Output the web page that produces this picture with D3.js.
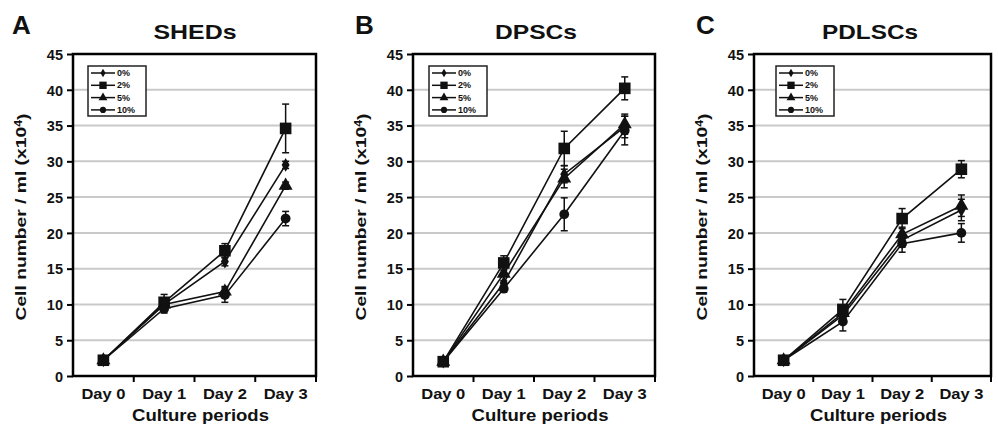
<!DOCTYPE html>
<html><head><meta charset="utf-8">
<script src="https://cdn.jsdelivr.net/npm/d3@7/dist/d3.min.js"></script>
<style>body{margin:0;background:#fff}svg{display:block}text{font-family:"Liberation Sans",Arial,sans-serif;font-weight:bold;fill:#111}</style>
</head><body>
<svg id="c" width="998" height="427"></svg>
<script>
const days = ["Day 0","Day 1","Day 2","Day 3"];
const seriesNames = ["0%","2%","5%","10%"];
const yTicks = [0,5,10,15,20,25,30,35,40,45];
const panelLetters = ["A","B","C"];
const panelTitles = ["SHEDs","DPSCs","PDLSCs"];

// SHEDs
const shed0 = [2.2, 10.0, 16.0, 29.5];
const shed2 = [2.2, 10.3, 17.5, 34.6];
const shed5 = [2.2, 10.0, 11.8, 26.6];
const shed10 = [2.2, 9.4, 11.3, 22.0];
const shedErr0 = [0.2, 0.8, 0.6, 0.5];
const shedErr2 = [0.2, 1.1, 1.0, 3.4];
const shedErr5 = [0.2, 0.8, 0.7, 0.5];
const shedErr10 = [0.2, 0.6, 1.0, 1.0];
// DPSCs
const dpsc0 = [2.0, 13.0, 28.2, 34.8];
const dpsc2 = [2.0, 15.8, 31.8, 40.2];
const dpsc5 = [2.0, 14.3, 27.6, 35.2];
const dpsc10 = [2.0, 12.2, 22.6, 34.3];
const dpscErr0 = [0.2, 1.0, 1.2, 1.5];
const dpscErr2 = [0.2, 1.0, 2.4, 1.6];
const dpscErr5 = [0.2, 1.0, 1.3, 1.4];
const dpscErr10 = [0.2, 0.5, 2.3, 2.0];
// PDLSCs
const pdl0 = [2.2, 8.5, 19.0, 23.2];
const pdl2 = [2.2, 9.3, 22.0, 28.9];
const pdl5 = [2.2, 8.8, 19.8, 23.8];
const pdl10 = [2.2, 7.6, 18.5, 20.0];
const pdlErr0 = [0.2, 0.8, 1.0, 1.5];
const pdlErr2 = [0.2, 1.4, 1.4, 1.2];
const pdlErr5 = [0.2, 0.8, 1.0, 1.5];
const pdlErr10 = [0.2, 1.3, 1.2, 1.3];

const panels = [
  {vals:[shed0,shed2,shed5,shed10], errs:[shedErr0,shedErr2,shedErr5,shedErr10]},
  {vals:[dpsc0,dpsc2,dpsc5,dpsc10], errs:[dpscErr0,dpscErr2,dpscErr5,dpscErr10]},
  {vals:[pdl0,pdl2,pdl5,pdl10], errs:[pdlErr0,pdlErr2,pdlErr5,pdlErr10]}
];
// layout
const layout = [
  {l:73, r:316, letterX:12, titleX:195, titleW:83, legDx:15},
  {l:413, r:655, letterX:355, titleX:536, titleW:82, legDx:16},
  {l:754, r:991, letterX:696, titleX:870, titleW:96, legDx:22}
];
const plotTop = 54, plotBottom = 376;
const markerShapes = [d3.symbolDiamond, d3.symbolSquare, d3.symbolTriangle, d3.symbolCircle];
const markerSizes = [55, 135, 85, 75];

const svg = d3.select("#c");

panels.forEach((p, pi) => {
  const L = layout[pi];
  const g = svg.append("g");
  const x = d3.scaleBand().domain(days).range([L.l, L.r]);
  const y = d3.scaleLinear().domain([0,45]).range([plotBottom, plotTop]);

  // gridlines
  g.append("g").selectAll("line").data(yTicks.filter(t => t>0 && t<45)).join("line")
    .attr("x1", L.l).attr("x2", L.r).attr("y1", d=>y(d)).attr("y2", d=>y(d))
    .attr("stroke", "#c9c9c9").attr("stroke-width", 2);

  // y axis
  const ya = g.append("g").attr("transform", `translate(${L.l},0)`)
    .call(d3.axisLeft(y).tickValues(yTicks).tickSize(6).tickPadding(4));
  ya.select(".domain").remove();
  ya.selectAll("line").attr("stroke", "#000").attr("stroke-width", 2);
  ya.selectAll("text").style("font-size", "14.5px").attr("fill", "#111").attr("dy", "0.36em");

  // x axis labels
  const xa = g.append("g").attr("transform", `translate(0,${plotBottom})`)
    .call(d3.axisBottom(x).tickSize(0).tickPadding(12));
  xa.select(".domain").remove();
  xa.selectAll("text").style("font-size", "15px").attr("fill", "#111")
    .attr("textLength", 44).attr("lengthAdjust", "spacingAndGlyphs");
  // x boundary ticks
  const bounds = days.map(d => x(d)).concat([x(days[days.length-1]) + x.bandwidth()]);
  g.append("g").selectAll("line").data(bounds.slice(1)).join("line")
    .attr("x1", d=>d).attr("x2", d=>d).attr("y1", plotBottom).attr("y2", plotBottom+6)
    .attr("stroke", "#000").attr("stroke-width", 2);

  // frame
  g.append("rect").attr("x", L.l).attr("y", plotTop).attr("width", L.r-L.l).attr("height", plotBottom-plotTop)
    .attr("fill", "none").attr("stroke", "#000").attr("stroke-width", 2.5);

  // lines, error bars, markers
  const cx = d => x(d) + x.bandwidth()/2;
  const line = d3.line().x((v,i)=>cx(days[i])).y(v=>y(v));
  p.vals.forEach((vals, si) => {
    g.append("path").attr("d", line(vals)).attr("fill","none").attr("stroke","#111").attr("stroke-width",1.6);
  });
  p.vals.forEach((vals, si) => {
    const errs = p.errs[si];
    vals.forEach((v, i) => {
      const X = cx(days[i]);
      const eg = g.append("g").attr("stroke","#111").attr("stroke-width",1.5);
      eg.append("line").attr("x1",X).attr("x2",X).attr("y1",y(v+errs[i])).attr("y2",y(v-errs[i]));
      eg.append("line").attr("x1",X-3.5).attr("x2",X+3.5).attr("y1",y(v+errs[i])).attr("y2",y(v+errs[i]));
      eg.append("line").attr("x1",X-3.5).attr("x2",X+3.5).attr("y1",y(v-errs[i])).attr("y2",y(v-errs[i]));
    });
  });
  p.vals.forEach((vals, si) => {
    g.append("g").selectAll("path").data(vals).join("path")
      .attr("transform", (v,i)=>`translate(${cx(days[i])},${y(v)})`)
      .attr("d", d3.symbol().type(markerShapes[si]).size(markerSizes[si]))
      .attr("fill", "#111");
  });

  // legend
  const lx = L.l + L.legDx, ly = 66;
  const lg = g.append("g");
  lg.append("rect").attr("x", lx).attr("y", ly).attr("width", 58).attr("height", 50)
    .attr("fill", "#fff").attr("stroke", "#222").attr("stroke-width", 1.5);
  seriesNames.forEach((nm, si) => {
    const yy = ly + 7 + si*12.3;
    lg.append("line").attr("x1", lx+3).attr("x2", lx+27).attr("y1", yy).attr("y2", yy)
      .attr("stroke", "#111").attr("stroke-width", 1.5);
    lg.append("path").attr("transform", `translate(${lx+15},${yy})`)
      .attr("d", d3.symbol().type(markerShapes[si]).size(markerSizes[si]*0.4)).attr("fill", "#111");
    lg.append("text").attr("x", lx+29).attr("y", yy).attr("dy", "0.35em")
      .style("font-size", "9px").attr("fill", "#333").text(nm);
  });

  // panel letter & title
  svg.append("text").attr("x", L.letterX).attr("y", 34).style("font-size", "26px").text(panelLetters[pi]);
  svg.append("text").attr("x", L.titleX).attr("y", 39).attr("text-anchor", "middle")
    .style("font-size", "21px").attr("textLength", L.titleW).attr("lengthAdjust", "spacingAndGlyphs")
    .text(panelTitles[pi]);

  // y title
  const yt = svg.append("text").attr("transform", `translate(${L.l-47},${(plotTop+plotBottom)/2+2}) rotate(-90)`)
    .attr("text-anchor", "middle").style("font-size", "15.5px")
    .attr("textLength", 207).attr("lengthAdjust", "spacingAndGlyphs");
  yt.append("tspan").text("Cell number / ml (x10");
  yt.append("tspan").attr("dy", "-0.45em").style("font-size", "10px").text("4");
  yt.append("tspan").attr("dy", "0.45em").text(")");

  // x title
  svg.append("text").attr("x", (L.l+L.r)/2 + 6).attr("y", 421).attr("text-anchor", "middle")
    .style("font-size", "16.5px").attr("textLength", 137).attr("lengthAdjust", "spacingAndGlyphs")
    .text("Culture periods");
});
</script>
</body></html>
